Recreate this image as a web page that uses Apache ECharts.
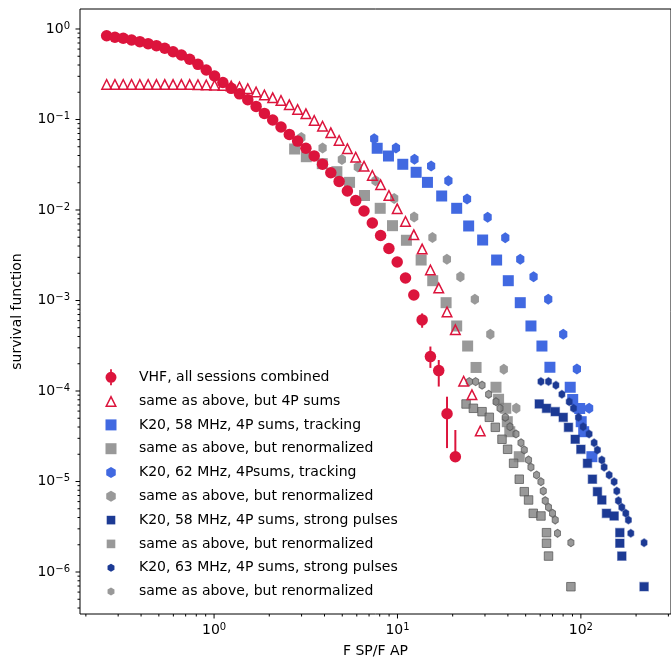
<!DOCTYPE html>
<html lang="en">
<head>
<meta charset="UTF-8">
<title>survival function</title>
<script src="https://cdn.jsdelivr.net/npm/echarts@6/dist/echarts.min.js"></script>
<style>
    html, body { margin: 0; padding: 0; background: #fff; }
    #chart { width: 671px; height: 664px; }
</style>
</head>
<body>
<div id="chart"></div>
<script>
    // VHF, all sessions combined
    const vhfX = [0.2596, 0.2881, 0.3197, 0.3549, 0.3939, 0.4371, 0.4852, 0.5385, 0.5976, 0.6633,
        0.7362, 0.8170, 0.9067, 1.0065, 1.117, 1.240, 1.376, 1.527, 1.695, 1.881,
        2.088, 2.317, 2.572, 2.854, 3.168, 3.516, 3.902, 4.331, 4.807, 5.333,
        5.920, 6.571, 7.293, 8.093, 8.983, 9.968, 11.06, 12.28, 13.63, 15.12,
        16.79, 18.63, 20.68]
    const vhfY = [0.843, 0.810, 0.789, 0.756, 0.724, 0.688, 0.654, 0.612, 0.561, 0.516,
        0.463, 0.407, 0.352, 0.302, 0.256, 0.221, 0.192, 0.1655, 0.1395, 0.1168,
        0.0987, 0.0826, 0.0684, 0.0577, 0.0481, 0.0396, 0.0321, 0.0258, 0.0207, 0.0162,
        0.0127, 0.00975, 0.00718, 0.00523, 0.00375, 0.00266, 0.00177, 0.00115, 0.00061, 0.00024,
        0.000168, 0.0000560, 0.0000188]
    // error bars of the last VHF points
    const vhfErrX = [13.63, 15.12, 16.79, 18.63, 20.68]
    const vhfErrLow = [5.0e-4, 1.8e-4, 1.12e-4, 2.34e-5, 1.88e-5]
    const vhfErrHigh = [7.2e-4, 3.1e-4, 2.2e-4, 8.65e-5, 3.71e-5]

    // VHF, 4P sums
    const vhf4pX = vhfX.concat([22.95, 25.47, 28.27])
    const vhf4pY = [0.247, 0.247, 0.247, 0.247, 0.247, 0.247, 0.246, 0.246, 0.246, 0.246,
        0.246, 0.245, 0.244, 0.2425, 0.2405, 0.2375, 0.2315, 0.2213, 0.2039, 0.1889,
        0.1759, 0.1643, 0.1472, 0.1306, 0.1171, 0.0987, 0.0854, 0.0722, 0.0594, 0.0481,
        0.0388, 0.0309, 0.0244, 0.0192, 0.01464, 0.01044, 0.00756, 0.00539, 0.00375, 0.00220,
        0.00139, 0.000756, 0.000481, 0.000130, 0.0000919, 0.0000366]

    // K20, 58 MHz, 4P sums, tracking
    const trk58X = [7.752, 8.931, 10.69, 12.64, 14.57, 17.42, 21.03, 24.44, 29.13, 34.72,
        40.20, 46.72, 53.43, 61.33, 67.79, 87.47, 90.26, 98.51, 100.4, 103.6, 114.8]
    const trk58Y = [0.0481, 0.0395, 0.0320, 0.0261, 0.0202, 0.01428, 0.01044, 0.00666, 0.00466, 0.00280,
        0.001655, 0.000946, 0.000523, 0.000314, 0.000183, 0.000110, 0.0000805, 0.0000641, 0.0000458, 0.0000355, 0.0000188]
    const trk58RenX = [2.750, 3.184, 3.891, 4.673, 5.479, 6.612, 8.051, 9.393, 11.19, 13.46,
        15.57, 18.41, 21.03, 24.13, 26.82, 34.45, 35.59, 38.96, 39.70, 40.96, 46.14]
    const trk58RenY = [0.0472, 0.0388, 0.0325, 0.0265, 0.0202, 0.01446, 0.01044, 0.00671, 0.00463, 0.00280,
        0.001655, 0.000946, 0.000523, 0.000314, 0.000182, 0.000110, 0.0000810, 0.0000644, 0.0000458, 0.0000355, 0.0000188]

    // K20, 62 MHz, 4P sums, tracking
    const trk62X = [7.467, 9.813, 12.38, 15.26, 18.95, 23.95, 31.01, 38.71, 46.72, 55.21, 66.37, 80.12, 95.1, 110.9]
    const trk62Y = [0.0614, 0.0484, 0.0363, 0.0306, 0.0211, 0.01323, 0.00830, 0.00494, 0.00285, 0.00183,
        0.00103, 0.000423, 0.000175, 0.0000644]
    const trk62RenX = [2.991, 3.906, 4.975, 6.080, 7.591, 9.594, 12.33, 15.51, 18.60, 22.03, 26.42, 32.08, 37.99, 44.44]
    const trk62RenY = [0.0633, 0.0484, 0.0361, 0.0299, 0.0211, 0.01340, 0.00837, 0.00497, 0.00285, 0.00183,
        0.00103, 0.000424, 0.000174, 0.0000644]

    // K20, 58 MHz, 4P sums, strong pulses
    const str58X = [59.29, 64.96, 72.46, 80.12, 85.58, 93.11, 100.0, 108.6, 115.6, 123.1,
        130.1, 137.9, 151.8, 163.1, 163.1, 167.2, 221.1]
    const str58Y = [7.19e-5, 6.44e-5, 5.91e-5, 5.12e-5, 3.97e-5, 2.93e-5, 2.27e-5, 1.59e-5, 1.06e-5, 7.72e-6,
        6.25e-6, 4.45e-6, 4.16e-6, 2.72e-6, 2.08e-6, 1.50e-6, 6.88e-7]
    const str58RenX = [23.66, 25.93, 28.92, 31.68, 34.16, 37.15, 39.85, 42.96, 46.14, 49.13,
        51.85, 55.00, 60.57, 64.96, 64.96, 66.61, 88.23]
    const str58RenY = [7.19e-5, 6.44e-5, 5.91e-5, 5.12e-5, 3.97e-5, 2.93e-5, 2.27e-5, 1.59e-5, 1.06e-5, 7.72e-6,
        6.25e-6, 4.45e-6, 4.16e-6, 2.72e-6, 2.08e-6, 1.50e-6, 6.88e-7]

    // K20, 63 MHz, 4P sums, strong pulses
    const str63X = [60.57, 66.61, 73.10, 78.81, 86.37, 91.15, 97.03, 102.9, 110.9, 118.1, 123.1,
        130.1, 133.9, 142.6, 151.8, 157.0, 160.2, 167.2, 175.8, 181.6, 187.2, 221.1]
    const str63Y = [1.27e-4, 1.27e-4, 1.16e-4, 9.19e-5, 7.62e-5, 6.44e-5, 5.12e-5, 4.03e-5, 3.35e-5, 2.68e-5, 2.23e-5,
        1.73e-5, 1.44e-5, 1.18e-5, 9.95e-6, 7.85e-6, 6.14e-6, 5.19e-6, 4.45e-6, 3.75e-6, 2.68e-6, 2.11e-6]
    const str63RenX = [24.65, 26.69, 28.92, 31.41, 34.45, 36.23, 38.71, 41.07, 44.28, 47.14, 49.13,
        51.85, 53.43, 57.33, 60.57, 62.34, 63.92, 66.61, 70.04, 72.46, 74.58, 88.23]
    const str63RenY = [1.27e-4, 1.27e-4, 1.16e-4, 9.19e-5, 7.62e-5, 6.44e-5, 5.12e-5, 4.03e-5, 3.35e-5, 2.68e-5, 2.23e-5,
        1.73e-5, 1.44e-5, 1.18e-5, 9.95e-6, 7.85e-6, 6.14e-6, 5.19e-6, 4.45e-6, 3.75e-6, 2.68e-6, 2.11e-6]

    // axis ranges and tick decades
    const xMin = 0.1858, xMax = 310
    const yMin = 3.436e-7, yMax = 1.663
    const xDecades = [0.1, 1, 10, 100]
    const yDecades = [1e-7, 1e-6, 1e-5, 1e-4, 1e-3, 1e-2, 1e-1, 1]
    const minorSteps = [2, 3, 4, 5, 6, 7, 8, 9]

    const RED = '#dc143c'
    const BLUE = '#4169e1'
    const NAVY = '#1c3a94'
    const GRAY = 'rgba(128,128,128,0.8)'
    const FONT = 'DejaVu Sans'

    const HEX = 'path://M0,-1 L0.866,-0.5 L0.866,0.5 L0,1 L-0.866,0.5 L-0.866,-0.5 Z'
    const TRI = 'path://M6,0 L12,12 L0,12 Z M6,3.35 L2.42,10.5 L9.58,10.5 Z'

    // legend icons in a 20x20 box (corner points keep the scale)
    const BOX = 'path://M0,0 M20,20 '
    const icons = {
        vhf: BOX + 'M4.5,10 A5.5,5.5 0 1,1 15.5,10 A5.5,5.5 0 1,1 4.5,10 Z M9.1,2 L10.9,2 L10.9,4.8 L9.1,4.8 Z M9.1,15.2 L10.9,15.2 L10.9,18 L9.1,18 Z',
        tri: BOX + 'M10,4 L16,16 L4,16 Z M10,7.35 L6.42,14.5 L13.58,14.5 Z',
        sq: BOX + 'M4.5,4.5 L15.5,4.5 L15.5,15.5 L4.5,15.5 Z',
        hex: BOX + 'M10,4.5 L14.76,7.25 L14.76,12.75 L10,15.5 L5.24,12.75 L5.24,7.25 Z',
        sqS: BOX + 'M5.7,5.7 L14.3,5.7 L14.3,14.3 L5.7,14.3 Z',
        hexS: BOX + 'M10,6 L13.46,8 L13.46,12 L10,14 L6.54,12 L6.54,8 Z'
    }

    function zip(xs, ys) {
        return xs.map((x, i) => [x, ys[i]])
    }

    function scatter(name, xs, ys, symbol, size, itemStyle, z) {
        return {
            name, type: 'scatter', data: zip(xs, ys), symbol, symbolSize: size,
            symbolKeepAspect: true, itemStyle: Object.assign({ opacity: 1 }, itemStyle),
            z, silent: true, animation: false
        }
    }

    // matplotlib-like tick marks drawn outside the axes
    const xTicks = [], yTicks = []
    xDecades.forEach(d => {
        if (d >= xMin && d <= xMax) xTicks.push([d, yMin, 4.5])
        minorSteps.forEach(m => { const v = d * m; if (v >= xMin && v <= xMax) xTicks.push([v, yMin, 2.5]) })
    })
    yDecades.forEach(d => {
        if (d >= yMin && d <= yMax) yTicks.push([xMin, d, 4.5])
        minorSteps.forEach(m => { const v = d * m; if (v >= yMin && v <= yMax) yTicks.push([xMin, v, 2.5]) })
    })

    function tickSeries(data, vertical) {
        return {
            type: 'custom', data, silent: true, animation: false, z: 5,
            renderItem(params, api) {
                const p = api.coord([api.value(0), api.value(1)])
                const len = api.value(2)
                const shape = vertical
                    ? { x1: p[0], y1: p[1], x2: p[0], y2: p[1] + len }
                    : { x1: p[0] - len, y1: p[1], x2: p[0], y2: p[1] }
                return { type: 'line', shape, style: { stroke: '#000', lineWidth: 1 } }
            }
        }
    }

    function powerLabel(v) {
        const l = Math.log10(v)
        const e = Math.round(l)
        if (Math.abs(l - e) > 1e-6) return ''
        return '{b|10}{s|' + (e < 0 ? '\u2212' + (-e) : e) + '}'
    }
    const labelRich = {
        b: { fontFamily: FONT, fontSize: 14, lineHeight: 16, color: '#000' },
        s: { fontFamily: FONT, fontSize: 10, lineHeight: 10, verticalAlign: 'top', color: '#000' }
    }

    const names = ['VHF, all sessions combined', 'same as above, but 4P sums',
        'K20, 58 MHz, 4P sums, tracking', 'same as above, but renormalized#1',
        'K20, 62 MHz, 4Psums, tracking', 'same as above, but renormalized#2',
        'K20, 58 MHz, 4P sums, strong pulses', 'same as above, but renormalized#3',
        'K20, 63 MHz, 4P sums, strong pulses', 'same as above, but renormalized#4']
    const legendIcons = [icons.vhf, icons.tri, icons.sq, icons.sq, icons.hex, icons.hex,
        icons.sqS, icons.sqS, icons.hexS, icons.hexS]

    const strongNavy = { color: NAVY, borderColor: 'rgba(28,58,148,0.45)', borderWidth: 1.2 }
    const strongGray = { color: GRAY, borderColor: 'rgba(85,85,85,0.75)', borderWidth: 1 }

    const chart = echarts.init(document.getElementById('chart'), null, { renderer: 'canvas' })
    chart.setOption({
        animation: false,
        backgroundColor: '#fff',
        grid: { left: 80, right: -1, top: 9, bottom: 50, show: true, borderColor: '#000', borderWidth: 1, backgroundColor: 'transparent' },
        xAxis: {
            type: 'log', logBase: 10, min: xMin, max: xMax,
            name: 'F SP/F AP', nameLocation: 'middle', nameGap: 30,
            nameTextStyle: { fontFamily: FONT, fontSize: 14, color: '#000' },
            axisLine: { show: false }, axisTick: { show: false }, splitLine: { show: false },
            axisLabel: { formatter: powerLabel, rich: labelRich, margin: 16, verticalAlign: 'middle',
                showMinLabel: false, showMaxLabel: false, hideOverlap: false }
        },
        yAxis: {
            type: 'log', logBase: 10, min: yMin, max: yMax,
            name: 'survival function', nameLocation: 'middle', nameGap: 56,
            nameTextStyle: { fontFamily: FONT, fontSize: 14, color: '#000' },
            axisLine: { show: false }, axisTick: { show: false }, splitLine: { show: false },
            axisLabel: { formatter: powerLabel, rich: labelRich, margin: 10, showMinLabel: false, showMaxLabel: false, hideOverlap: false }
        },
        legend: {
            orient: 'vertical', left: 101, top: 367.3, padding: 0,
            itemWidth: 20, itemHeight: 20, itemGap: 3.8,
            selectedMode: false,
            formatter: name => name.replace(/#\d$/, ''),
            textStyle: { fontFamily: FONT, fontSize: 14, color: '#000', padding: [0, 0, 0, 13] },
            data: names.map((n, i) => ({ name: n, icon: legendIcons[i], itemStyle: { borderWidth: 0, opacity: 1 } }))
        },
        series: [
            scatter(names[2], trk58X, trk58Y, 'rect', 11, { color: BLUE }, 2),
            scatter(names[3], trk58RenX, trk58RenY, 'rect', 11, { color: GRAY }, 2),
            scatter(names[4], trk62X, trk62Y, HEX, [9.5, 11], { color: BLUE }, 2),
            scatter(names[5], trk62RenX, trk62RenY, HEX, [9.5, 11], { color: GRAY }, 2),
            scatter(names[6], str58X, str58Y, 'rect', 8.5, strongNavy, 2),
            scatter(names[7], str58RenX, str58RenY, 'rect', 8.5, strongGray, 2),
            scatter(names[8], str63X, str63Y, HEX, [7, 8], strongNavy, 2),
            scatter(names[9], str63RenX, str63RenY, HEX, [7, 8], strongGray, 2),
            scatter(names[0], vhfX, vhfY, 'circle', 11.5, { color: RED }, 3),
            scatter(names[1], vhf4pX, vhf4pY, TRI, 12, { color: RED }, 3),
            {
                type: 'custom', silent: true, animation: false, z: 3,
                data: vhfErrX.map((x, i) => [x, vhfErrLow[i], vhfErrHigh[i]]),
                renderItem(params, api) {
                    const lo = api.coord([api.value(0), api.value(1)])
                    const hi = api.coord([api.value(0), api.value(2)])
                    return { type: 'line', shape: { x1: lo[0], y1: lo[1], x2: hi[0], y2: hi[1] },
                        style: { stroke: RED, lineWidth: 2 } }
                }
            },
            tickSeries(xTicks, true),
            tickSeries(yTicks, false)
        ]
    })
</script>
</body>
</html>
